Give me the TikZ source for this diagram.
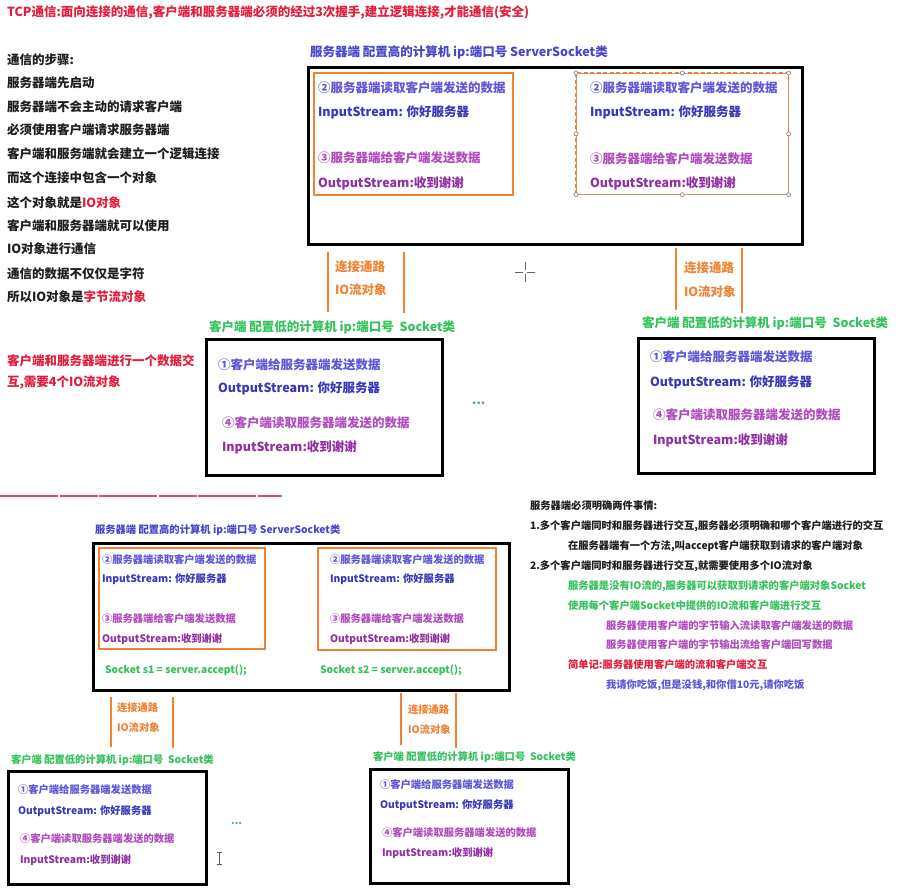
\documentclass[tikz,border=0pt]{standalone}
\usepackage{fontspec}
\setmainfont{Noto Sans CJK SC}
\usetikzlibrary{calc}

\definecolor{tred}{RGB}{225,30,60}
\definecolor{sblue}{RGB}{70,70,205}
\definecolor{stepblue}{RGB}{95,85,215}
\definecolor{strblue}{RGB}{55,55,185}
\definecolor{steppurp}{RGB}{175,75,190}
\definecolor{strpurp}{RGB}{145,45,165}
\definecolor{grn}{RGB}{50,195,90}
\definecolor{org}{RGB}{240,130,50}
\definecolor{ink}{RGB}{30,30,30}

\newcommand\bigfont{\bfseries\fontsize{12.5}{14}\selectfont}
\newcommand\smfont{\bfseries\fontsize{10.3}{12}\selectfont}

\tikzset{
  bigtxt/.style={anchor=west, inner sep=0pt, outer sep=0pt, font=\bigfont},
  smtxt/.style={anchor=west, inner sep=0pt, outer sep=0pt, font=\smfont},
  hostbox/.style={draw=black, line width=2.6pt, anchor=north west, inner sep=0pt},
  streambox/.style={draw=org, line width=2.2pt, anchor=north west, inner sep=0pt},
  selbox/.style={draw=gray!70, line width=0.6pt, anchor=north west, inner sep=0pt},
  link/.style={draw=org, line width=2.5pt},
  handle/.style={circle, draw=gray, fill=white, inner sep=0pt, minimum size=4pt, line width=0.6pt},
  dots/.style={anchor=west, inner sep=0pt, font=\bigfont, text=grn!60!gray}
}

\begin{document}
\begin{tikzpicture}[x=1pt,y=-1pt]
\useasboundingbox (0,0) rectangle (909,895);
\fill[white] (0,0) rectangle (909,895);

% ---------------- heading and notes on the left ----------------
\node[bigtxt, text=tred] (title) at (7,12) {TCP通信:面向连接的通信,客户端和服务器端必须的经过3次握手,建立逻辑连接,才能通信(安全)};

\node[bigtxt, text=ink] (n1) at (7,60) {通信的步骤:};
\node[bigtxt, text=ink] (n2) at (7,83) {服务器端先启动};
\node[bigtxt, text=ink] (n3) at (7,107) {服务器端不会主动的请求客户端};
\node[bigtxt, text=ink] (n4) at (7,130) {必须使用客户端请求服务器端};
\node[bigtxt, text=ink] (n5) at (7,154) {客户端和服务端就会建立一个逻辑连接};
\node[bigtxt, text=ink] (n6) at (7,178) {而这个连接中包含一个对象};
\node[bigtxt, text=ink] (n7) at (7,203) {这个对象就是\textcolor{tred}{IO对象}};
\node[bigtxt, text=ink] (n8) at (7,226) {客户端和服务器端就可以使用};
\node[bigtxt, text=ink] (n9) at (7,249) {IO对象进行通信};
\node[bigtxt, text=ink] (n10) at (7,274) {通信的数据不仅仅是字符};
\node[bigtxt, text=ink] (n11) at (7,297) {所以IO对象是\textcolor{tred}{字节流对象}};
\node[bigtxt, text=tred] (n12) at (7,361) {客户端和服务器端进行一个数据交};
\node[bigtxt, text=tred] (n13) at (7,383) {互,需要4个IO流对象};

% ---------------- upper scheme: one server, two clients ----------------
\node[bigtxt, text=sblue] (srvA) at (310,52) {服务器端 配置高的计算机 ip:端口号 ServerSocket类};
\node[hostbox, minimum width=494pt, minimum height=177pt] (srvAbox) at (307,66) {};

\node[streambox, minimum width=199pt, minimum height=122pt] (srvAin1) at (313,72) {};
\node[bigtxt, text=stepblue] (a1) at (318,88) {②服务器端读取客户端发送的数据};
\node[bigtxt, text=strblue]  (a2) at (318,112) {InputStream: 你好服务器};
\node[bigtxt, text=steppurp] (a3) at (318,158) {③服务器端给客户端发送数据};
\node[bigtxt, text=strpurp]  (a4) at (318,183) {OutputStream:收到谢谢};

% selected copy of the stream box
\node[selbox, minimum width=212pt, minimum height=121pt] (srvAin2) at (576,73) {};
\draw[org, line width=1.6pt, dash pattern=on 4pt off 2.5pt] (srvAin2.north west) rectangle (srvAin2.south east);
\foreach \a [count=\i] in {north west,north,north east,west,east,south west,south,south east}
  \node[handle] (hd\i) at (srvAin2.\a) {};
\node[bigtxt, text=stepblue] (b1) at (590,88) {②服务器端读取客户端发送的数据};
\node[bigtxt, text=strblue]  (b2) at (590,112) {InputStream: 你好服务器};
\node[bigtxt, text=steppurp] (b3) at (590,159) {③服务器端给客户端发送数据};
\node[bigtxt, text=strpurp]  (b4) at (590,183) {OutputStream:收到谢谢};

% connection channels
\coordinate (l1a) at (328,252); \coordinate (l1b) at (328,312);
\coordinate (l2a) at (404,252); \coordinate (l2b) at (404,313);
\draw[link] (l1a) -- (l1b);
\draw[link] (l2a) -- (l2b);
\node[bigtxt, text=org] (c1) at (335,267) {连接通路};
\node[bigtxt, text=org] (c2) at (335,290) {IO流对象};

\coordinate (r1a) at (676,248); \coordinate (r1b) at (676,310);
\coordinate (r2a) at (742,248); \coordinate (r2b) at (742,313);
\draw[link] (r1a) -- (r1b);
\draw[link] (r2a) -- (r2b);
\node[bigtxt, text=org] (c3) at (684,268) {连接通路};
\node[bigtxt, text=org] (c4) at (684,292) {IO流对象};

% clients
\node[bigtxt, text=grn] (cliA) at (209,327) {客户端 配置低的计算机 ip:端口号~~Socket类};
\node[hostbox, minimum width=236pt, minimum height=136pt] (cliAbox) at (205,338) {};
\node[bigtxt, text=stepblue] (d1) at (218,365) {①客户端给服务器端发送数据};
\node[bigtxt, text=strblue]  (d2) at (218,388) {OutputStream: 你好服务器};
\node[bigtxt, text=steppurp] (d3) at (222,423) {④客户端读取服务器端发送的数据};
\node[bigtxt, text=strpurp]  (d4) at (222,447) {InputStream:收到谢谢};
\node[dots] (ell1) at (472,403) {...};

\node[bigtxt, text=grn] (cliB) at (642,323) {客户端 配置低的计算机 ip:端口号~~Socket类};
\node[hostbox, minimum width=236pt, minimum height=135pt] (cliBbox) at (637,337) {};
\node[bigtxt, text=stepblue] (e1) at (650,357) {①客户端给服务器端发送数据};
\node[bigtxt, text=strblue]  (e2) at (650,382) {OutputStream: 你好服务器};
\node[bigtxt, text=steppurp] (e3) at (653,415) {④客户端读取服务器端发送的数据};
\node[bigtxt, text=strpurp]  (e4) at (653,440) {InputStream:收到谢谢};

% pointer cross
\coordinate (px) at (525,272);
\draw[gray!80!black, line width=0.7pt] ($(px)+(-10,0)$) -- ($(px)+(-2,0)$) ($(px)+(2,0)$) -- ($(px)+(10,0)$)
  ($(px)+(0,-10)$) -- ($(px)+(0,-2)$) ($(px)+(0,2)$) -- ($(px)+(0,10)$);

% ---------------- separator ----------------
\coordinate (sepA) at (0,496); \coordinate (sepB) at (282,496);
\draw[tred!80!white, line width=2.6pt, dash pattern=on 58pt off 1.5pt on 38pt off 1.5pt] (sepA) -- (sepB);

% ---------------- notes on the right ----------------
\node[smtxt, text=ink] (m1) at (530,506) {服务器端必须明确两件事情:};
\node[smtxt, text=ink] (m2) at (530,526) {1.多个客户端同时和服务器进行交互,服务器必须明确和哪个客户端进行的交互};
\node[smtxt, text=ink] (m3) at (568,546) {在服务器端有一个方法,叫accept客户端获取到请求的客户端对象};
\node[smtxt, text=ink] (m4) at (530,566) {2.多个客户端同时和服务器进行交互,就需要使用多个IO流对象};
\node[smtxt, text=grn] (m5) at (568,586) {服务器是没有IO流的,服务器可以获取到请求的客户端对象Socket};
\node[smtxt, text=grn] (m6) at (568,606) {使用每个客户端Socket中提供的IO流和客户端进行交互};
\node[smtxt, text=steppurp] (m7) at (606,626) {服务器使用客户端的字节输入流读取客户端发送的数据};
\node[smtxt, text=steppurp] (m8) at (606,645) {服务器使用客户端的字节输出流给客户端回写数据};
\node[smtxt, text=tred] (m9) at (568,665) {简单记:服务器使用客户端的流和客户端交互};
\node[smtxt, text=stepblue] (m10) at (606,685) {我请你吃饭,但是没钱,和你借10元,请你吃饭};

% ---------------- lower scheme: server keeps one socket per client ----------------
\node[smtxt, text=sblue] (srvB) at (95,530) {服务器端 配置高的计算机 ip:端口号 ServerSocket类};
\node[hostbox, minimum width=416pt, minimum height=147pt] (srvBbox) at (92,542) {};

\node[streambox, minimum width=166pt, minimum height=101pt] (srvBin1) at (98,547) {};
\node[smtxt, text=stepblue] (f1) at (102,560) {②服务器端读取客户端发送的数据};
\node[smtxt, text=strblue]  (f2) at (102,579) {InputStream: 你好服务器};
\node[smtxt, text=steppurp] (f3) at (102,619) {③服务器端给客户端发送数据};
\node[smtxt, text=strpurp]  (f4) at (102,639) {OutputStream:收到谢谢};
\node[smtxt, text=grn] (s1) at (105,670) {Socket s1 = server.accept();};

\node[streambox, minimum width=178pt, minimum height=102pt] (srvBin2) at (317,547) {};
\node[smtxt, text=stepblue] (g1) at (330,560) {②服务器端读取客户端发送的数据};
\node[smtxt, text=strblue]  (g2) at (330,579) {InputStream: 你好服务器};
\node[smtxt, text=steppurp] (g3) at (330,619) {③服务器端给客户端发送数据};
\node[smtxt, text=strpurp]  (g4) at (330,639) {OutputStream:收到谢谢};
\node[smtxt, text=grn] (s2) at (320,670) {Socket s2 = server.accept();};

\coordinate (u1a) at (111,697); \coordinate (u1b) at (111,747);
\coordinate (u2a) at (173,697); \coordinate (u2b) at (173,748);
\draw[link] (u1a) -- (u1b);
\draw[link] (u2a) -- (u2b);
\node[smtxt, text=org] (k1) at (117,708) {连接通路};
\node[smtxt, text=org] (k2) at (117,728) {IO流对象};

\coordinate (v1a) at (401,693); \coordinate (v1b) at (401,745);
\coordinate (v2a) at (456,693); \coordinate (v2b) at (456,748);
\draw[link] (v1a) -- (v1b);
\draw[link] (v2a) -- (v2b);
\node[smtxt, text=org] (k3) at (408,710) {连接通路};
\node[smtxt, text=org] (k4) at (408,730) {IO流对象};

\node[smtxt, text=grn] (cliC) at (11,760) {客户端 配置低的计算机 ip:端口号~~Socket类};
\node[hostbox, minimum width=198pt, minimum height=113pt] (cliCbox) at (7,770) {};
\node[smtxt, text=stepblue] (h1) at (18,790) {①客户端给服务器端发送数据};
\node[smtxt, text=strblue]  (h2) at (18,811) {OutputStream: 你好服务器};
\node[smtxt, text=steppurp] (h3) at (20,839) {④客户端读取服务器端发送的数据};
\node[smtxt, text=strpurp]  (h4) at (20,860) {InputStream:收到谢谢};
\node[dots, font=\smfont] (ell2) at (231,823) {...};

\node[smtxt, text=grn] (cliD) at (373,757) {客户端 配置低的计算机 ip:端口号~~Socket类};
\node[hostbox, minimum width=198pt, minimum height=114pt] (cliDbox) at (369,768) {};
\node[smtxt, text=stepblue] (j1) at (380,785) {①客户端给服务器端发送数据};
\node[smtxt, text=strblue]  (j2) at (380,805) {OutputStream: 你好服务器};
\node[smtxt, text=steppurp] (j3) at (382,833) {④客户端读取服务器端发送的数据};
\node[smtxt, text=strpurp]  (j4) at (382,853) {InputStream:收到谢谢};

% text cursor
\coordinate (ib) at (219,858);
\draw[gray!70!black, line width=0.8pt] ($(ib)+(0,-6)$) -- ($(ib)+(0,6)$)
  ($(ib)+(-2.5,-6)$) -- ($(ib)+(2.5,-6)$) ($(ib)+(-2.5,6)$) -- ($(ib)+(2.5,6)$);
\end{tikzpicture}
\end{document}
